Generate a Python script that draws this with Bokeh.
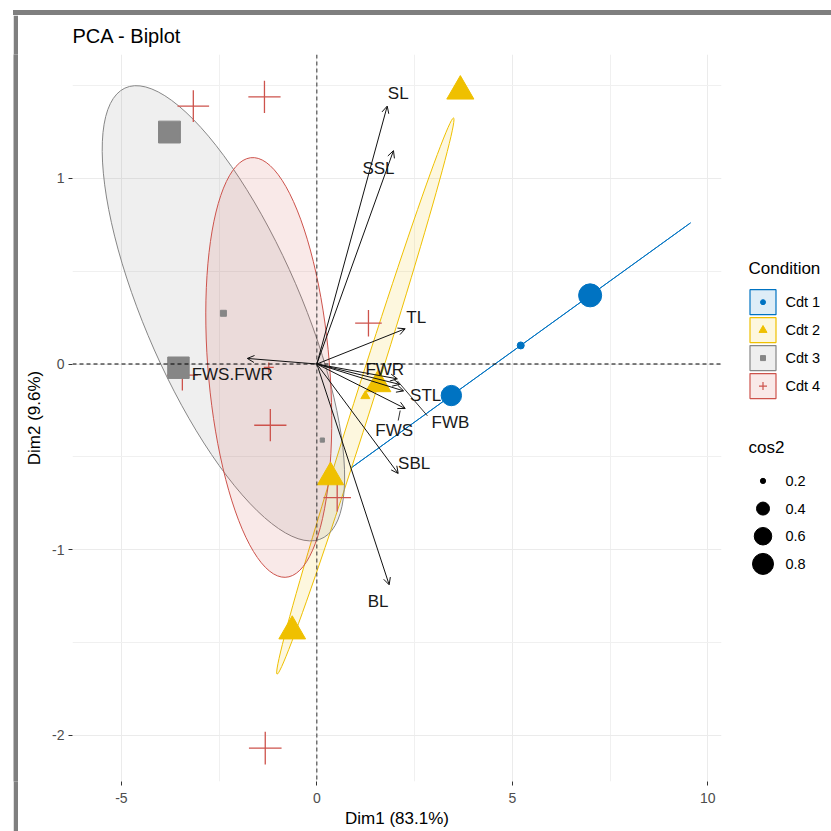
import numpy as np
from bokeh.plotting import figure
from bokeh.models import ColumnDataSource, FixedTicker, Span, Arrow, OpenHead, Range1d, Spacer, Div
from bokeh.layouts import row, column
from bokeh.embed import file_html
from bokeh.resources import INLINE
from bokeh.core.properties import value

# ---------------- data ----------------
conditions = ["Cdt 1", "Cdt 2", "Cdt 3", "Cdt 4"]
cond_colors = ["#0073C2", "#EFC000", "#868686", "#CD534C"]
cond_markers = ["circle", "triangle", "square", "cross"]

cdt1_dim1 = [3.44, 6.99]
cdt1_dim2 = [-0.17, 0.37]
cdt1_cos2 = [0.76, 0.93]

cdt2_dim1 = [3.67, -0.63, 0.35, 1.57]
cdt2_dim2 = [1.47, -1.44, -0.61, -0.11]
cdt2_cos2 = [0.90, 0.88, 0.85, 0.80]

cdt3_dim1 = [-3.77, -3.54, 0.14]
cdt3_dim2 = [1.25, -0.02, -0.41]
cdt3_cos2 = [0.93, 0.90, 0.19]

cdt4_dim1 = [-3.16, -1.34, 1.32, -1.19, 0.52, -1.32, -3.44]
cdt4_dim2 = [1.39, 1.44, 0.22, -0.33, -0.72, -2.07, -0.06]
cdt4_cos2 = [0.90, 0.93, 0.68, 0.93, 0.72, 0.95, 0.86]

var_names = ["SL", "SSL", "TL", "FWR", "STL", "FWB", "FWS", "SBL", "BL", "FWS.FWR"]
var_dim1 = [1.80, 1.96, 2.26, 2.12, 2.22, 2.06, 2.26, 2.08, 1.85, -1.78]
var_dim2 = [1.39, 1.15, 0.19, -0.11, -0.145, -0.08, -0.24, -0.59, -1.19, 0.03]

x_ticks = [-5, 0, 5, 10]
x_minor = [-2.5, 2.5, 7.5]
y_ticks = [-2, -1, 0, 1]
y_minor = [-1.5, -0.5, 0.5, 1.5]
cos2_breaks = [0.2, 0.4, 0.6, 0.8]

title_text = "PCA - Biplot"
x_title = "Dim1 (83.1%)"
y_title = "Dim2 (9.6%)"

# ---------------- layout / style ----------------
FONT = "Liberation Sans"
FRAME_GRAY = "#7f7f7f"
X_RANGE = (-6.25, 10.35)
Y_RANGE = (-2.25, 1.668)
W_MAIN, H_MAIN, W_LEG = 709, 816, 104
MB_L, MB_R, MB_T, MB_B = 54, 6, 38, 50
FRAME_W = W_MAIN - MB_L - MB_R
FRAME_H = H_MAIN - MB_T - MB_B
PX_X = FRAME_W / (X_RANGE[1] - X_RANGE[0])
PX_Y = FRAME_H / (Y_RANGE[1] - Y_RANGE[0])

# label offsets of the variable names (screen px, dy positive = down)
lab_dx = [11, -15, 11, -15, 22, 53, -11, 16, -11, -15]
lab_dy = [-13, 18, -11, -15, 5, 44, 22, -10, 17, 16]
# repel segments (index, start offset, end offset) in px
seg_specs = [(5, (0, 2), (30, 37)), (6, (-5, 2), (-7, 12))]

def size_fn(c):
    c = np.asarray(c, dtype=float)
    return 0.8 + 22.8 * np.sqrt(np.clip((c - 0.17) / 0.8, 0, None))

shape_scale = {"circle": 1.0, "triangle": 1.2, "square": 0.95, "cross": 1.4}
mean_size = {"circle": 7, "triangle": 9, "square": 6, "cross": 10}
key_size = {"circle": 5, "triangle": 8, "square": 5, "cross": 8}

def conf_ellipse(xs, ys, level=0.95, npoints=100):
    d = np.column_stack([xs, ys])
    n = len(xs)
    cov = np.cov(d.T) / n
    cx, cy = d.mean(axis=0)
    t = np.sqrt(-2 * np.log(1 - level))
    sx, sy = np.sqrt(cov[0, 0]), np.sqrt(cov[1, 1])
    r = np.clip(cov[0, 1] / (sx * sy), -1, 1)
    dd = np.arccos(r)
    a = np.linspace(0, 2 * np.pi, npoints)
    return t * sx * np.cos(a + dd / 2) + cx, t * sy * np.cos(a - dd / 2) + cy

groups = [
    (cdt1_dim1, cdt1_dim2, cdt1_cos2),
    (cdt2_dim1, cdt2_dim2, cdt2_cos2),
    (cdt3_dim1, cdt3_dim2, cdt3_cos2),
    (cdt4_dim1, cdt4_dim2, cdt4_cos2),
]

def blank_fig(w, h, fill="white", y_top=None, y_bottom=None):
    yr = Range1d(y_bottom if y_bottom is not None else h, y_top if y_top is not None else 0)
    f = figure(width=w, height=h, x_range=Range1d(0, w), y_range=yr,
               output_backend="svg", toolbar_location=None, x_axis_type=None, y_axis_type=None,
               min_border=0, title_location=None)
    f.outline_line_color = None
    f.xgrid.visible = False
    f.ygrid.visible = False
    f.border_fill_color = fill
    f.background_fill_color = fill
    return f

p = figure(width=W_MAIN, height=H_MAIN, x_range=Range1d(*X_RANGE), y_range=Range1d(*Y_RANGE),
           output_backend="svg", toolbar_location=None,
           min_border_left=MB_L, min_border_right=MB_R, min_border_top=MB_T, min_border_bottom=MB_B)
p.outline_line_color = None
p.background_fill_color = "white"
p.border_fill_color = "white"

p.title.text = title_text
p.title.text_font = FONT
p.title.text_font_size = "20px"
p.title.text_font_style = "normal"
p.title.text_color = "black"
p.title.align = "left"
p.title.standoff = 15

p.xaxis.ticker = FixedTicker(ticks=x_ticks, minor_ticks=x_minor)
p.yaxis.ticker = FixedTicker(ticks=y_ticks, minor_ticks=y_minor)
p.xaxis.major_label_overrides = {t: str(t) for t in x_ticks}
p.yaxis.major_label_overrides = {t: str(t) for t in y_ticks}
for ax in (p.xaxis[0], p.yaxis[0]):
    ax.axis_line_color = None
    ax.major_tick_line_color = "#333333"
    ax.major_tick_out = 4
    ax.major_tick_in = 0
    ax.minor_tick_line_color = None
    ax.major_label_text_font = FONT
    ax.major_label_text_font_size = "14px"
    ax.major_label_text_color = "#4D4D4D"
    ax.axis_label_text_font = FONT
    ax.axis_label_text_font_size = "17px"
    ax.axis_label_text_font_style = "normal"
    ax.axis_label_text_color = "black"
p.xaxis.major_label_standoff = 7
p.xaxis.axis_label_standoff = 3
p.yaxis.major_label_standoff = 4
p.yaxis.axis_label_standoff = 5
p.xaxis.axis_label = x_title
p.yaxis.axis_label = y_title
p.yaxis.major_label_orientation = "horizontal"

for g in (p.xgrid[0], p.ygrid[0]):
    g.grid_line_color = "#EBEBEB"
    g.grid_line_width = 1
    g.minor_grid_line_color = "#F0F0F0"
    g.minor_grid_line_width = 1

# ellipses
for (gx, gy, gc), col in zip(groups, cond_colors):
    ex, ey = conf_ellipse(gx, gy)
    p.patch(ex, ey, fill_color=col, fill_alpha=0.13, line_color=col, line_width=1)

# zero lines
p.add_layout(Span(location=0, dimension="width", line_color="black", line_dash="4 3", line_width=1.2))
p.add_layout(Span(location=0, dimension="height", line_color="#333333", line_dash="4 3", line_width=1))

# individuals (crosses first so filled markers sit on top)
order = [3, 0, 1, 2]
for i in order:
    gx, gy, gc = groups[i]
    mk = cond_markers[i]
    col = cond_colors[i]
    src = ColumnDataSource(dict(x=gx, y=gy, s=size_fn(gc) * shape_scale[mk]))
    if mk == "cross":
        p.scatter("x", "y", size="s", marker=mk, source=src, line_color=col, line_width=1.3)
    else:
        p.scatter("x", "y", size="s", marker=mk, source=src, fill_color=col, line_color=col)
    # group mean point
    p.scatter([np.mean(gx)], [np.mean(gy)], size=mean_size[mk], marker=mk,
              fill_color=col, line_color=col, line_width=1.2 if mk == "cross" else 1)

# variable arrows
vsrc = ColumnDataSource(dict(x0=np.zeros(len(var_dim1)), y0=np.zeros(len(var_dim2)),
                             x=var_dim1, y=var_dim2, name=var_names, dx=lab_dx, dy=lab_dy))
p.add_layout(Arrow(end=OpenHead(size=7, line_width=1, line_color="#111111"),
                   x_start="x0", y_start="y0", x_end="x", y_end="y", source=vsrc,
                   line_color="#111111", line_width=1))
for idx, (sx0, sy0), (sx1, sy1) in seg_specs:
    bx, by = var_dim1[idx], var_dim2[idx]
    p.segment(x0=[bx + sx0 / PX_X], y0=[by - sy0 / PX_Y], x1=[bx + sx1 / PX_X], y1=[by - sy1 / PX_Y],
              line_color="#333333", line_width=1)
p.text("x", "y", text="name", source=vsrc, x_offset="dx", y_offset="dy",
       text_font=value(FONT), text_font_size="17px", text_color="#1a1a1a",
       text_align="center", text_baseline="middle")

# ---------------- legend panel ----------------
# the row aligns this panel's frame with the main plot frame, so its y range spans
# the main frame's canvas rows (canvas px, top = MB_T, bottom = MB_T + FRAME_H)
leg = blank_fig(W_LEG, H_MAIN, y_top=MB_T, y_bottom=MB_T + FRAME_H)

LX_TITLE, LX_KEY, LX_LAB = 21, 35.5, 58
cond_y0, cond_pitch = 286, 28
cos_y0, cos_pitch = 465, 27.7

leg.text([LX_TITLE], [252], text=["Condition"], text_font=value(FONT), text_font_size="17px",
         text_color="black", text_baseline="middle")
ky = [cond_y0 + cond_pitch * i for i in range(len(conditions))]
leg.rect([LX_KEY] * len(conditions), ky, width=26, height=25, fill_color=cond_colors,
         fill_alpha=0.13, line_color=cond_colors, line_width=1.2)
for i, mk in enumerate(cond_markers):
    leg.scatter([LX_KEY], [ky[i]], size=key_size[mk], marker=mk, fill_color=cond_colors[i],
                line_color=cond_colors[i], line_width=1.2 if mk == "cross" else 1)
leg.text([LX_LAB] * len(conditions), ky, text=conditions, text_font=value(FONT),
         text_font_size="14.5px", text_color="black", text_baseline="middle")

leg.text([LX_TITLE], [432], text=["cos2"], text_font=value(FONT), text_font_size="17px",
         text_color="black", text_baseline="middle")
cy = [cos_y0 + cos_pitch * i for i in range(len(cos2_breaks))]
leg.scatter([LX_KEY] * len(cos2_breaks), cy, size=size_fn(cos2_breaks), marker="circle",
            fill_color="black", line_color="black")
leg.text([LX_LAB] * len(cos2_breaks), cy, text=[str(b) for b in cos2_breaks], text_font=value(FONT),
         text_font_size="14.5px", text_color="black", text_baseline="middle")

# ---------------- outer gray frame (left and top edges of the framed image) ----------------
BAR = 5
top_bar = Div(text="", width=BAR + W_MAIN + W_LEG, height=BAR, margin=0,
              styles={"background-color": FRAME_GRAY})
left_bar = blank_fig(BAR, H_MAIN, fill=FRAME_GRAY)

layout = column(
    Spacer(height=10),
    row(Spacer(width=13),
        column(top_bar, row(left_bar, p, leg, spacing=0), spacing=0),
        spacing=0),
    spacing=0)

open("out.html", "w").write(file_html(layout, INLINE))
